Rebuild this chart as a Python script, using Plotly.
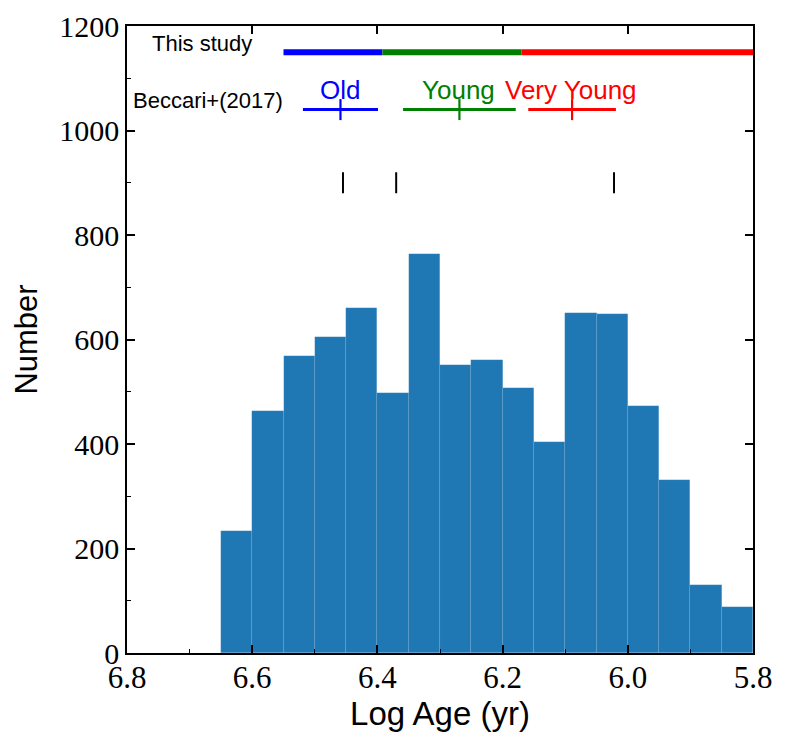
import plotly.graph_objects as go

# histogram of log ages (bin width 0.05)
bin_centers = [6.625, 6.575, 6.525, 6.475, 6.425, 6.375, 6.325, 6.275, 6.225,
               6.175, 6.125, 6.075, 6.025, 5.975, 5.925, 5.875, 5.825]
counts = [234, 463, 569, 604, 660, 498, 764, 551, 560,
          508, 403, 651, 649, 472, 331, 130, 88]
bin_width = 0.05

# this study: age group boundaries
study_edges = [6.55, 6.392, 6.170, 5.80]
study_colors = ["blue", "green", "red"]
study_y = 1150

# Beccari+(2017) groups
beccari_names = ["Old", "Young", "Very Young"]
beccari_centers = [6.459, 6.269, 6.089]
beccari_err = [0.060, 0.090, 0.070]
beccari_colors = ["blue", "green", "red"]
beccari_y = 1040
beccari_label_x = [6.46, 6.27, 6.091]
beccari_label_y = 1078

# black markers
marks_x = [6.455, 6.370, 6.022]
marks_y = [900, 900, 900]

x_ticks = [6.8, 6.6, 6.4, 6.2, 6.0, 5.8]
x_ticktext = ["6.8", "6.6", "6.4", "6.2", "6.0", "5.8"]

SERIF = "Liberation Serif"
SANS = "Liberation Sans"

fig = go.Figure()

fig.add_trace(go.Bar(
    x=bin_centers, y=counts, width=bin_width,
    marker=dict(color="#1f77b4", line=dict(color="rgba(255,255,255,0.15)", width=0.5)),
    showlegend=False,
))

for i, c in enumerate(study_colors):
    fig.add_trace(go.Scatter(
        x=[study_edges[i], study_edges[i + 1]], y=[study_y, study_y],
        mode="lines", line=dict(color=c, width=6), showlegend=False,
    ))

for i, c in enumerate(beccari_colors):
    fig.add_trace(go.Scatter(
        x=[beccari_centers[i]], y=[beccari_y], mode="markers",
        marker=dict(symbol="line-ns", size=15, line=dict(color=c, width=2.2)),
        error_x=dict(type="data", array=[beccari_err[i]], color=c, thickness=3, width=0),
        showlegend=False,
    ))
    fig.add_annotation(x=beccari_label_x[i], y=beccari_label_y, text=beccari_names[i],
                       showarrow=False, font=dict(family=SANS, size=26, color=c))

fig.add_trace(go.Scatter(
    x=marks_x, y=marks_y, mode="markers",
    marker=dict(symbol="line-ns", size=15, line=dict(color="black", width=2)),
    showlegend=False,
))

# empty trace so the top/right axes (major ticks only) get drawn
fig.add_trace(go.Scatter(x=[], y=[], xaxis="x2", yaxis="y2", showlegend=False))

fig.add_annotation(x=6.68, y=1166, text="This study", showarrow=False,
                   font=dict(family=SANS, size=22, color="black"))
fig.add_annotation(x=6.671, y=1057, text="Beccari+(2017)", showarrow=False,
                   font=dict(family=SANS, size=22, color="black"))

fig.update_layout(
    xaxis=dict(
        range=[6.8, 5.8], tickvals=x_ticks, ticktext=x_ticktext,
        ticks="inside", ticklen=8, tickwidth=1.5, tickcolor="black",
        minor=dict(dtick=0.1, ticks="inside", ticklen=4, tickwidth=1, tickcolor="black"),
        showline=True, linecolor="black", linewidth=1.5, mirror=True,
        showgrid=False, zeroline=False, automargin=False,
        ticklabelstandoff=-4,
        tickfont=dict(family=SERIF, size=31, color="black"),
        title=dict(text="Log Age (yr)", font=dict(family=SANS, size=33, color="black"), standoff=2),
    ),
    yaxis=dict(
        range=[0, 1200], dtick=200,
        ticks="inside", ticklen=8, tickwidth=1.5, tickcolor="black",
        minor=dict(dtick=100, ticks="inside", ticklen=4, tickwidth=1, tickcolor="black"),
        showline=True, linecolor="black", linewidth=1.5, mirror=True,
        showgrid=False, zeroline=False, automargin=False,
        tickfont=dict(family=SERIF, size=30, color="black"),
        title=dict(text="Number", font=dict(family=SANS, size=31, color="black"), standoff=12),
    ),
    xaxis2=dict(
        overlaying="x", side="top", matches="x", tickvals=x_ticks,
        ticks="inside", ticklen=8, tickwidth=1.5, tickcolor="black",
        showticklabels=False, showgrid=False, zeroline=False, showline=False,
        automargin=False,
    ),
    yaxis2=dict(
        overlaying="y", side="right", matches="y", dtick=200,
        ticks="inside", ticklen=8, tickwidth=1.5, tickcolor="black",
        showticklabels=False, showgrid=False, zeroline=False, showline=False,
        automargin=False,
    ),
    width=789, height=749,
    margin=dict(l=119, r=44, t=18, b=104),
    plot_bgcolor="white", paper_bgcolor="white",
    bargap=0,
)

fig.write_html("out.html")
